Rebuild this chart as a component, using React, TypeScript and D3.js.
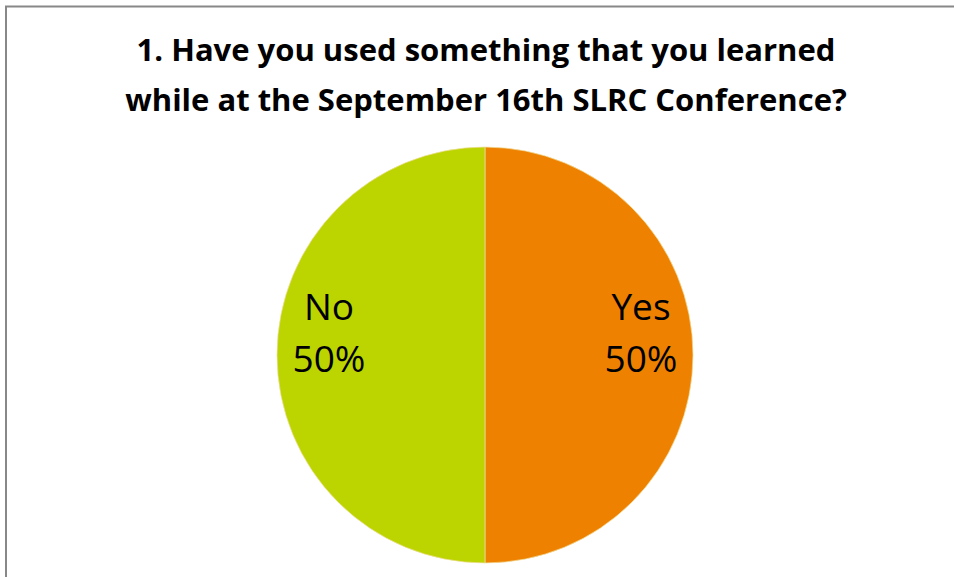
import React from "react";
import * as d3 from "d3";

const categories = ["Yes", "No"];
const values = [50, 50];
const colors = ["#EE8200", "#BCD400"];
const titleLines = [
  "1. Have you used something that you learned",
  "while at the September 16th SLRC Conference?",
];

export default function App() {
  const W = 954, H = 577;
  const cx = 485, cy = 355, r = 208;
  const pie = d3.pie<number>().sort(null).startAngle(0).endAngle(2 * Math.PI)(values);
  const arc = d3.arc<d3.PieArcDatum<number>>().innerRadius(0).outerRadius(r);
  const labelArc = d3.arc<d3.PieArcDatum<number>>().innerRadius(156).outerRadius(156);
  const total = d3.sum(values);
  return (
    <svg width={W} height={H} style={{ position: "absolute", left: 0, top: 0, background: "#fff" }}
      fontFamily="'Open Sans', sans-serif">
      <rect x={0} y={0} width={W} height={H} fill="#fff" />
      <line x1={5} y1={6.5} x2={W} y2={6.5} stroke="#888" strokeWidth={2} />
      <line x1={6} y1={6} x2={6} y2={H} stroke="#888" strokeWidth={2} />
      {titleLines.map((t, i) => (
        <text key={i} x={486} y={61 + i * 50} textAnchor="middle" fontSize={31} fontWeight="bold" fill="#000">
          {t}
        </text>
      ))}
      <g transform={`translate(${cx},${cy})`}>
        {pie.map((p, i) => (
          <path key={i} d={arc(p) || ""} fill={colors[i]} stroke="#f0e0a0" strokeWidth={0.7} />
        ))}
        {pie.map((p, i) => {
          const [lx] = labelArc.centroid(p);
          return (
            <g key={"l" + i}>
              <text x={lx} y={-35} textAnchor="middle" fontSize={37} fill="#000">{categories[i]}</text>
              <text x={lx} y={17} textAnchor="middle" fontSize={37} fill="#000">
                {Math.round((values[i] / total) * 100)}%
              </text>
            </g>
          );
        })}
      </g>
    </svg>
  );
}
